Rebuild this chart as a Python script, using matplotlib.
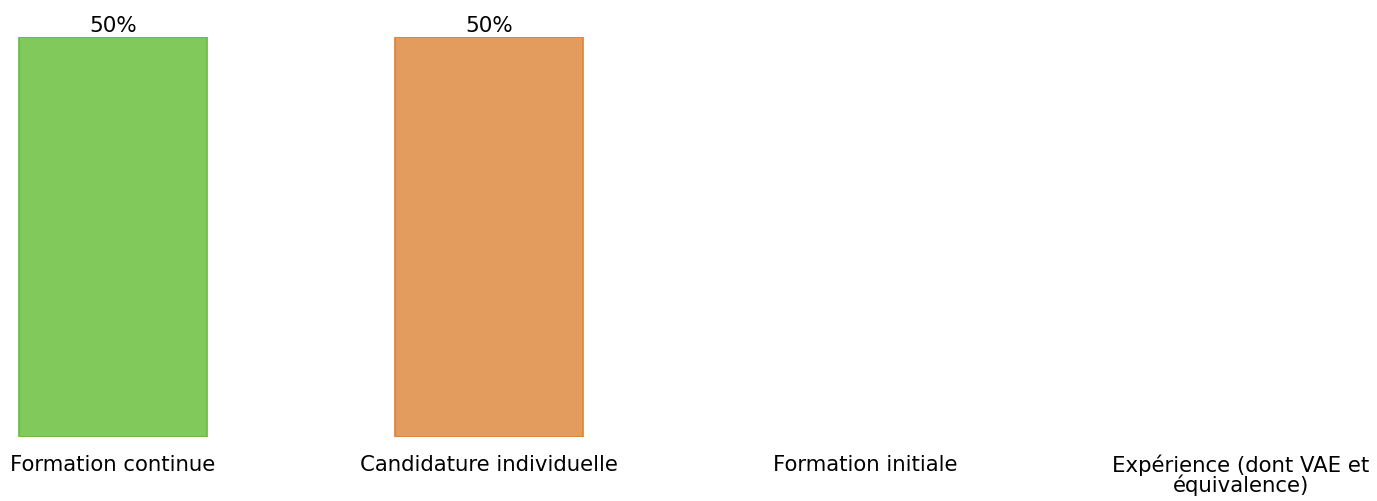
import matplotlib
matplotlib.use("Agg")
import matplotlib.pyplot as plt

# ---- data ----
categories = ["Formation continue", "Candidature individuelle", "Formation initiale",
              "Expérience (dont VAE et\néquivalence)"]
values = [50, 50, 0, 0]
fills = ["#80c95a", "#e39b5e", "#5b9bd5", "#a5a5a5"]
edges = ["#6ab842", "#e0822f", "#4a89c4", "#909090"]

plt.rcParams["font.family"] = ["DejaVu Sans"]

fig = plt.figure(figsize=(13.77, 5.02), dpi=100)
ax = fig.add_axes([0, 64 / 502, 1, 400 / 502])

xs = list(range(len(categories)))
for x, v, fc, ec in zip(xs, values, fills, edges):
    if v <= 0:
        continue
    ax.bar(x, v, width=0.5, color=fc, edgecolor=ec, linewidth=1.2)
    ax.annotate(f"{v}%", (x, v), xytext=(0, 1.5), textcoords="offset points",
                ha="center", va="bottom", fontsize=15.5, annotation_clip=False)

ax.set_xlim(-0.3005, 3.362)
ax.set_ylim(0, 50)
ax.set_xticks(xs)
ax.set_xticklabels(categories, fontsize=15.3, linespacing=0.92)
ax.tick_params(axis="x", length=0, pad=12)
ax.set_yticks([])
for s in ax.spines.values():
    s.set_visible(False)

fig.savefig("out.png", dpi=100)
